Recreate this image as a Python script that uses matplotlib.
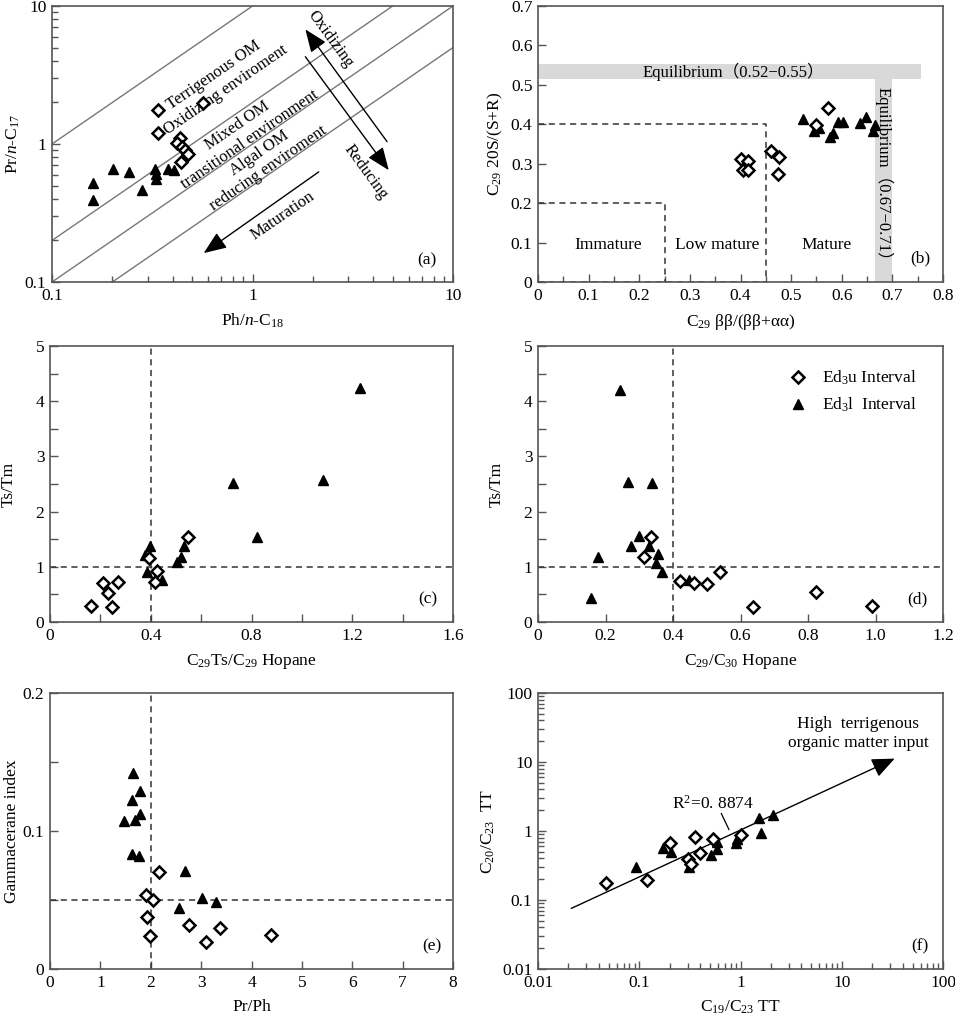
import matplotlib
matplotlib.use("Agg")
import matplotlib.pyplot as plt
from matplotlib.ticker import MultipleLocator, LogLocator, NullFormatter
from matplotlib.lines import Line2D
import numpy as np

plt.rcParams['font.family'] = ['Liberation Serif', 'DejaVu Serif']
plt.rcParams['mathtext.fontset'] = 'custom'
plt.rcParams['mathtext.rm'] = 'Liberation Serif'
plt.rcParams['mathtext.it'] = 'Liberation Serif:italic'
plt.rcParams['mathtext.bf'] = 'Liberation Serif:bold'

# ---------------- data ----------------
# (a) Ph/n-C18 vs Pr/n-C17
a_u_x = [0.338, 0.338, 0.564, 0.436, 0.421, 0.445, 0.462, 0.475, 0.440]
a_u_y = [1.76, 1.21, 1.97, 1.11, 1.01, 0.954, 0.902, 0.844, 0.746]
a_l_x = [0.160, 0.160, 0.202, 0.241, 0.280, 0.327, 0.330, 0.330, 0.378, 0.407]
a_l_y = [0.526, 0.391, 0.664, 0.628, 0.462, 0.664, 0.611, 0.562, 0.664, 0.645]
a_line_ratio = [10, 2, 1, 0.5]

# (b) C29 bb/(bb+aa) vs C29 20S/(S+R)
b_u_x = [0.400, 0.415, 0.405, 0.415, 0.460, 0.477, 0.474, 0.573, 0.550]
b_u_y = [0.311, 0.308, 0.283, 0.285, 0.333, 0.318, 0.273, 0.441, 0.397]
b_l_x = [0.523, 0.545, 0.556, 0.576, 0.583, 0.593, 0.602, 0.637, 0.647, 0.665, 0.662]
b_l_y = [0.413, 0.382, 0.390, 0.367, 0.377, 0.407, 0.407, 0.403, 0.418, 0.397, 0.383]

# (c) C29Ts/C29 Hopane vs Ts/Tm
c_u_x = [0.164, 0.212, 0.231, 0.246, 0.271, 0.394, 0.423, 0.417, 0.546]
c_u_y = [0.283, 0.706, 0.525, 0.265, 0.724, 1.152, 0.917, 0.724, 1.532]
c_l_x = [0.377, 0.399, 0.387, 0.444, 0.505, 0.520, 0.532, 0.727, 0.820, 1.082, 1.230]
c_l_y = [1.21, 1.38, 0.90, 0.766, 1.08, 1.176, 1.37, 2.527, 1.538, 2.57, 4.234]

# (d) C29/C30 Hopane vs Ts/Tm
d_u_x = [0.334, 0.314, 0.420, 0.462, 0.501, 0.540, 0.637, 0.823, 0.990]
d_u_y = [1.532, 1.17, 0.748, 0.706, 0.680, 0.899, 0.265, 0.549, 0.290]
d_l_x = [0.156, 0.179, 0.242, 0.267, 0.338, 0.277, 0.298, 0.329, 0.357, 0.351, 0.368, 0.447]
d_l_y = [0.428, 1.176, 4.20, 2.545, 2.515, 1.38, 1.55, 1.37, 1.236, 1.068, 0.91, 0.754]

# (e) Pr/Ph vs Gammacerane index
e_u_x = [2.155, 1.904, 2.036, 1.917, 1.983, 2.75, 3.088, 3.372, 4.397]
e_u_y = [0.0705, 0.0539, 0.0498, 0.0377, 0.0237, 0.0319, 0.0196, 0.0300, 0.0249]
e_l_x = [1.653, 1.785, 1.62, 1.785, 1.686, 1.474, 1.633, 1.77, 2.678, 3.015, 3.286, 2.565]
e_l_y = [0.142, 0.1287, 0.1222, 0.1126, 0.1082, 0.107, 0.0836, 0.0816, 0.0713, 0.0512, 0.0483, 0.0442]

# (f) C19/C23 TT vs C20/C23 TT
f_u_x = [0.0473, 0.120, 0.203, 0.352, 0.303, 0.327, 0.395, 0.535, 1.004]
f_u_y = [0.174, 0.194, 0.680, 0.823, 0.391, 0.331, 0.482, 0.754, 0.871]
f_l_x = [0.0935, 0.172, 0.205, 0.308, 0.507, 0.586, 0.590, 0.910, 0.930, 1.52, 1.58, 2.09]
f_l_y = [0.296, 0.558, 0.500, 0.303, 0.456, 0.687, 0.546, 0.659, 0.760, 1.52, 0.95, 1.73]
f_trend_x = [0.0213, 33.3]
f_trend_y = [0.0755, 11.2]

# ---------------- styles ----------------
W, H = 955, 1017
fig = plt.figure(figsize=(W / 100, H / 100), dpi=100)

SPINE = '#555555'
FS = 12.5

def make_ax(l, t, r, b):
    ax = fig.add_axes([l / W, 1 - b / H, (r - l) / W, (b - t) / H])
    for s in ax.spines.values():
        s.set_color(SPINE)
        s.set_linewidth(1.2)
    ax.tick_params(which='both', direction='in', top=False, right=False,
                   color=SPINE, labelsize=FS, width=1.0)
    ax.tick_params(which='major', length=6, pad=4)
    ax.tick_params(which='minor', length=4)
    return ax

def plot_points(ax, ux, uy, lx, ly, ms_d=6.5, ms_t=7.5):
    ax.plot(lx, ly, linestyle='none', marker='^', ms=ms_t, mfc='black',
            mec='black', zorder=5, clip_on=False)
    ax.plot(ux, uy, linestyle='none', marker='D', ms=ms_d, mfc='white',
            mec='black', mew=1.8, zorder=6, clip_on=False)

def tag(ax, s, x, y):
    ax.text(x, y, s, transform=ax.transAxes, fontsize=FS, ha='center', va='center')

dash = dict(color='#333333', lw=1.1, ls=(0, (4, 3)))

# ---------------- (a) ----------------
ax = make_ax(52, 6, 453, 282)
ax.set_xscale('log'); ax.set_yscale('log')
ax.set_xlim(0.1, 10); ax.set_ylim(0.1, 10)
xs = np.array([0.1, 10])
for k in a_line_ratio:
    ax.plot(xs, k * xs, color='#777777', lw=1.0, zorder=1)
ax.set_xticks([0.1, 1, 10]); ax.set_xticklabels(['0.1', '1', '10'])
ax.set_yticks([0.1, 1, 10]); ax.set_yticklabels(['0.1', '1', '10'])
ax.xaxis.set_minor_locator(LogLocator(subs=range(2, 10)))
ax.yaxis.set_minor_locator(LogLocator(subs=range(2, 10)))
ax.xaxis.set_minor_formatter(NullFormatter()); ax.yaxis.set_minor_formatter(NullFormatter())
ax.set_xlabel(r'Ph/$\mathit{n}$-C$_{18}$', fontsize=FS, labelpad=6)
ax.set_ylabel(r'Pr/$\mathit{n}$-C$_{17}$', fontsize=FS, labelpad=2)
rot = 34.5
tsz = 12
ax.text(0.64, 3.16, 'Terrigenous OM', rotation=rot, fontsize=tsz, ha='center', va='center', zorder=2)
ax.text(0.732, 2.46, 'Oxidizing enviroment', rotation=rot, fontsize=tsz, ha='center', va='center', zorder=2)
ax.text(0.843, 1.35, 'Mixed OM', rotation=rot, fontsize=tsz, ha='center', va='center', zorder=2)
ax.text(0.968, 1.08, 'transitional environment', rotation=rot, fontsize=tsz, ha='center', va='center', zorder=2)
ax.text(1.086, 0.853, 'Algal OM', rotation=rot, fontsize=tsz, ha='center', va='center', zorder=2)
ax.text(1.204, 0.664, 'reducing enviroment', rotation=rot, fontsize=tsz, ha='center', va='center', zorder=2)
ax.text(1.42, 0.30, 'Maturation', rotation=rot, fontsize=tsz, ha='center', va='center', zorder=2)
ax.text(2.44, 5.73, 'Oxidizing', rotation=-54, fontsize=tsz, ha='center', va='center', zorder=2)
ax.text(3.65, 0.628, 'Reducing', rotation=-54, fontsize=tsz, ha='center', va='center', zorder=2)
arr = dict(arrowstyle='-|>,head_length=0.7,head_width=0.28', color='black', lw=1.0,
           shrinkA=0, shrinkB=0, mutation_scale=20)
ax.annotate('', xy=(1.835, 6.77), xytext=(4.69, 1.04), arrowprops=arr)
ax.annotate('', xy=(4.78, 0.646), xytext=(1.835, 4.29), arrowprops=arr)
ax.annotate('', xy=(0.571, 0.162), xytext=(2.14, 0.628), arrowprops=arr)
plot_points(ax, a_u_x, a_u_y, a_l_x, a_l_y)
tag(ax, '(a)', 0.935, 0.08)

# ---------------- (b) ----------------
ax = make_ax(538, 6, 943, 282)
ax.set_xlim(0, 0.8); ax.set_ylim(0, 0.7)
ax.fill_between([0, 0.757], 0.515, 0.553, color='#d9d9d9', lw=0, zorder=1)
ax.fill_between([0.665, 0.70], 0, 0.515, color='#d9d9d9', lw=0, zorder=1)
ax.plot([0, 0.45, 0.45], [0.4, 0.4, 0], **dash, zorder=2)
ax.plot([0, 0.25, 0.25], [0.2, 0.2, 0], **dash, zorder=2)
ax.plot([0, 0.45], [0.001, 0.001], **dash, zorder=2)
b_xlabels = ['0', '0.1', '0.2', '0.3', '0.4', '0.5', '0.6', '0.7', '0.8']
b_ylabels = ['0', '0.1', '0.2', '0.3', '0.4', '0.5', '0.6', '0.7']
ax.set_xticks(np.arange(0, 0.81, 0.1)); ax.set_xticklabels(b_xlabels)
ax.set_yticks(np.arange(0, 0.71, 0.1)); ax.set_yticklabels(b_ylabels)
ax.xaxis.set_minor_locator(MultipleLocator(0.05))
ax.set_xlabel(r'C$_{29}$ ββ/(ββ+αα)', fontsize=FS, labelpad=6)
ax.set_ylabel(r'C$_{29}$ 20S/(S+R)', fontsize=FS, labelpad=4)
ax.text(0.138, 0.093, 'Immature', fontsize=FS, ha='center', va='center')
ax.text(0.354, 0.093, 'Low mature', fontsize=FS, ha='center', va='center')
ax.text(0.57, 0.093, 'Mature', fontsize=FS, ha='center', va='center')
ax.text(0.385, 0.534, 'Equilibrium（0.52−0.55）', fontsize=12, ha='center', va='center',
        family=['Liberation Serif', 'Noto Sans CJK SC'], zorder=3)
ax.text(0.683, 0.263, 'Equilibrium（0.67−0.71）', fontsize=12, ha='center', va='center',
        rotation=-90, family=['Liberation Serif', 'Noto Sans CJK SC'], zorder=3)
plot_points(ax, b_u_x, b_u_y, b_l_x, b_l_y)
tag(ax, '(b)', 0.945, 0.085)

# ---------------- (c) ----------------
ax = make_ax(50, 346, 453, 622)
ax.set_xlim(0, 1.6); ax.set_ylim(0, 5)
ax.axvline(0.4, **dash, zorder=2); ax.axhline(1, **dash, zorder=2)
ax.set_xticks([0, 0.4, 0.8, 1.2, 1.6]); ax.set_xticklabels(['0', '0.4', '0.8', '1.2', '1.6'])
ax.xaxis.set_minor_locator(MultipleLocator(0.2))
ax.yaxis.set_major_locator(MultipleLocator(1)); ax.yaxis.set_minor_locator(MultipleLocator(0.5))
ax.tick_params(which='minor', length=6)
ax.set_xlabel(r'C$_{29}$Ts/C$_{29}$ Hopane', fontsize=FS, labelpad=6)
ax.set_ylabel('Ts/Tm', fontsize=FS, labelpad=14)
plot_points(ax, c_u_x, c_u_y, c_l_x, c_l_y)
tag(ax, '(c)', 0.938, 0.083)

# ---------------- (d) ----------------
ax = make_ax(538, 346, 943, 622)
ax.set_xlim(0, 1.2); ax.set_ylim(0, 5)
ax.axvline(0.4, **dash, zorder=2); ax.axhline(1, **dash, zorder=2)
d_xlabels = ['0', '0.2', '0.4', '0.6', '0.8', '1.0', '1.2']
ax.set_xticks(np.arange(0, 1.21, 0.2)); ax.set_xticklabels(d_xlabels)
ax.yaxis.set_major_locator(MultipleLocator(1)); ax.yaxis.set_minor_locator(MultipleLocator(0.5))
ax.tick_params(which='minor', length=6)
ax.set_xlabel(r'C$_{29}$/C$_{30}$ Hopane', fontsize=FS, labelpad=6)
ax.set_ylabel('Ts/Tm', fontsize=FS, labelpad=14)
plot_points(ax, d_u_x, d_u_y, d_l_x, d_l_y)
handles = [Line2D([], [], ls='none', marker='D', ms=6.5, mfc='white', mec='black', mew=1.8),
           Line2D([], [], ls='none', marker='^', ms=7.5, mfc='black', mec='black')]
ax.legend(handles, [r'Ed$_3$u Interval', r'Ed$_3$l  Interval'], loc='upper right',
          frameon=False, fontsize=FS, handletextpad=0.4, borderaxespad=0.6,
          bbox_to_anchor=(0.98, 0.98), labelspacing=0.5)
tag(ax, '(d)', 0.937, 0.083)

# ---------------- (e) ----------------
ax = make_ax(50, 693, 453, 969)
ax.set_xlim(0, 8); ax.set_ylim(0, 0.2)
ax.axvline(2, **dash, zorder=2); ax.axhline(0.05, **dash, zorder=2)
ax.set_xticks(range(0, 9))
ax.set_yticks([0, 0.1, 0.2]); ax.set_yticklabels(['0', '0.1', '0.2'])
ax.yaxis.set_minor_locator(MultipleLocator(0.05))
ax.tick_params(which='minor', length=6)
ax.set_xlabel('Pr/Ph', fontsize=FS, labelpad=6)
ax.set_ylabel('Gammacerane index', fontsize=FS, labelpad=2)
plot_points(ax, e_u_x, e_u_y, e_l_x, e_l_y)
tag(ax, '(e)', 0.948, 0.082)

# ---------------- (f) ----------------
ax = make_ax(538, 693, 943, 969)
ax.set_xscale('log'); ax.set_yscale('log')
ax.set_xlim(0.01, 100); ax.set_ylim(0.01, 100)
f_ticks = [0.01, 0.1, 1, 10, 100]
f_labels = ['0.01', '0.1', '1', '10', '100']
ax.set_xticks(f_ticks); ax.set_xticklabels(f_labels)
ax.set_yticks(f_ticks); ax.set_yticklabels(f_labels)
ax.xaxis.set_minor_locator(LogLocator(subs=range(2, 10)))
ax.yaxis.set_minor_locator(LogLocator(subs=range(2, 10)))
ax.xaxis.set_minor_formatter(NullFormatter()); ax.yaxis.set_minor_formatter(NullFormatter())
ax.annotate('', xy=(f_trend_x[1], f_trend_y[1]), xytext=(f_trend_x[0], f_trend_y[0]),
            arrowprops=dict(arrowstyle='-|>,head_length=0.7,head_width=0.3', color='black',
                            lw=1.0, shrinkA=0, shrinkB=0, mutation_scale=20))
ax.text(14.5, 25.8, 'High  terrigenous\norganic matter input', fontsize=FS, ha='center',
        va='center', linespacing=1.2)
ax.text(0.535, 2.5, r'R$^2$=0. 8874', fontsize=FS, ha='center', va='center')
ax.plot([0.647, 0.769], [1.79, 1.05], color='black', lw=0.9)
ax.set_xlabel(r'C$_{19}$/C$_{23}$ TT', fontsize=FS, labelpad=6)
ax.set_ylabel(r'C$_{20}$/C$_{23}$  TT', fontsize=FS, labelpad=4)
plot_points(ax, f_u_x, f_u_y, f_l_x, f_l_y)
tag(ax, '(f)', 0.942, 0.081)

fig.savefig('out.png', dpi=100)
